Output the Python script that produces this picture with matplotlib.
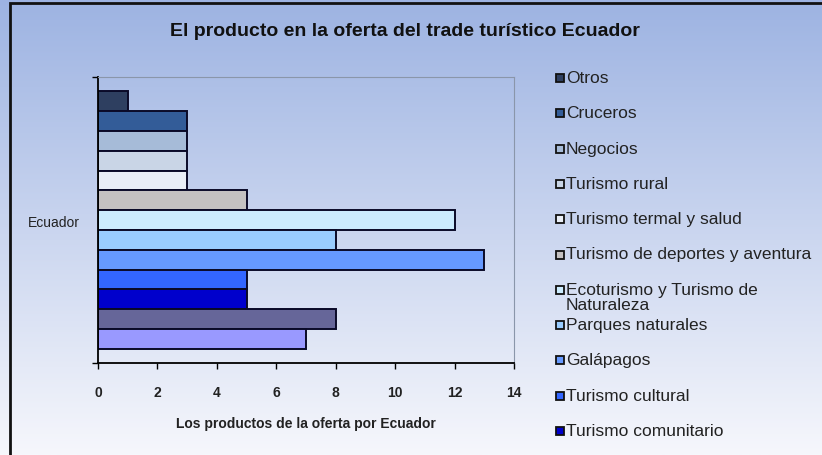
import numpy as np
import matplotlib.pyplot as plt
from matplotlib.patches import Rectangle

# chart data, top bar first
productos = ["Otros", "Cruceros", "Negocios", "Turismo rural",
             "Turismo termal y salud", "Turismo de deportes y aventura",
             "Ecoturismo y Turismo de\nNaturaleza", "Parques naturales",
             "Galápagos", "Turismo cultural", "Turismo comunitario"]
valores = [1, 3, 3, 3, 3, 5, 12, 8, 13, 5, 5]
# two more series whose legend entries are cut off in the original
valores_extra = [8, 7]
colores = ["#2e3f60", "#335c98", "#a6bbd8", "#c9d5e6", "#e9eef6", "#c4c1c1",
           "#ccecfe", "#99ccff", "#6699ff", "#3366ff", "#0000cc",
           "#666699", "#9999ff"]
categoria = "Ecuador"
xticks = [0, 2, 4, 6, 8, 10, 12, 14]

plt.rcParams['font.family'] = ["Liberation Sans", "DejaVu Sans"]

W, H = 822, 456
fig = plt.figure(figsize=(W / 100, H / 100), dpi=100)

# gradient background
bg = fig.add_axes([0, 0, 1, 1], zorder=-10)
grad = np.linspace(0, 1, 256)[:, None]
top = np.array([157, 179, 226]) / 255
bot = np.array([246, 247, 252]) / 255
img = top[None, None, :] * (1 - grad[:, :, None]) + bot[None, None, :] * grad[:, :, None]
bg.imshow(img, aspect="auto", extent=[0, 1, 0, 1])
bg.set_xlim(0, 1)
bg.set_ylim(0, 1)
bg.axis("off")
# outer frame (cut at right and bottom)
bg.add_patch(Rectangle((10 / W, -0.1), 1.2, 1 - 4 / H + 0.1, fill=False,
                       edgecolor="#111111", linewidth=2.0))

ax = fig.add_axes([98 / W, 1 - 364 / H, 416 / W, 286 / H])
ax.patch.set_alpha(0)

todos = valores + valores_extra
n = len(todos)
h = 0.9 / n
pos = 0.45 - (np.arange(n) + 0.5) * h
ax.barh(pos, todos, height=h, color=colores, edgecolor="#0a0a28", linewidth=1.4)

ax.set_xlim(0, 14)
ax.set_ylim(-0.5, 0.5)
ax.set_xticks(xticks)
ax.set_xticklabels([str(t) for t in xticks], fontsize=10,
                   fontweight="bold", color="#222222")
ax.tick_params(axis="x", direction="out", length=4, width=1, pad=12)
ax.set_yticks([0])
ax.set_yticklabels([categoria], fontsize=10, color="#222222")
ax.tick_params(axis="y", length=0, pad=13)
ax.set_yticks([-0.5, 0.5], minor=True)
ax.tick_params(axis="y", which="minor", length=4, width=1, direction="out")

ax.spines["left"].set_color("black")
ax.spines["bottom"].set_color("black")
ax.spines["left"].set_linewidth(1.3)
ax.spines["bottom"].set_linewidth(1.3)
ax.spines["top"].set_color("#8a96aa")
ax.spines["right"].set_color("#8a96aa")

ax.set_xlabel("Los productos de la oferta por Ecuador",
              fontsize=10, fontweight="bold", color="#222222", labelpad=12)

fig.text(405 / W, 1 - 32 / H, "El producto en la oferta del trade turístico Ecuador",
         ha="center", va="center", fontsize=14,
         fontweight="bold", color="#111111")

# legend, drawn like the Excel one: fixed step, long label wraps downward
y0, paso = 79, 35.3
for i, (lab, c) in enumerate(zip(productos, colores)):
    yc = y0 + i * paso
    fig.add_artist(Rectangle((556 / W, 1 - (yc + 4) / H), 8 / W, 8 / H,
                             facecolor=c, edgecolor="#111111", linewidth=1.3,
                             transform=fig.transFigure))
    fig.text(566 / W, 1 - (yc - 8) / H, lab, ha="left", va="top",
             fontsize=12.5, color="#222222", linespacing=1.0)

fig.savefig("out.png", dpi=100)
